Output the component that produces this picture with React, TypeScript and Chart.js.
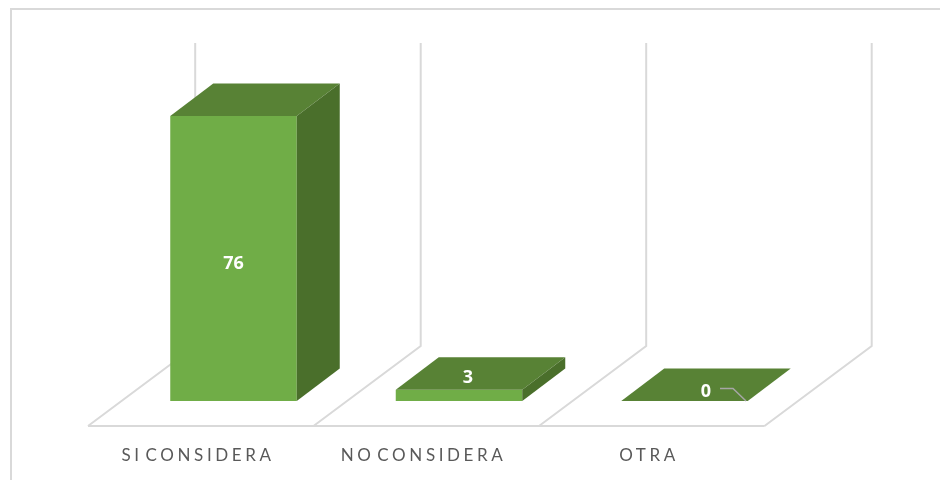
import React, { useEffect, useRef } from "react";
import { Chart, registerables } from "chart.js";

Chart.register(...registerables);

const categories = ["SI CONSIDERA", "NO CONSIDERA", "OTRA"];
const values = [76, 3, 0];
const axisMax = 80;

const FRONT = "#70AD47";
const TOP = "#588235";
const SIDE = "#4A6F2B";
const LINE = "#D9D9D9";
const DEPTH_X = 43;
const DEPTH_Y = 32.5;

function poly(ctx: CanvasRenderingContext2D, pts: number[][], fill: string) {
  ctx.beginPath();
  pts.forEach((p, i) => (i ? ctx.lineTo(p[0], p[1]) : ctx.moveTo(p[0], p[1])));
  ctx.closePath();
  ctx.fillStyle = fill;
  ctx.fill();
}

const scene = {
  id: "scene",
  beforeDraw(chart: any) {
    const ctx = chart.ctx;
    ctx.save();
    ctx.strokeStyle = LINE;
    ctx.lineWidth = 2;
    ctx.beginPath();
    ctx.moveTo(11, 480);
    ctx.lineTo(11, 9);
    ctx.lineTo(940, 9);
    ctx.stroke();
    ctx.restore();
    ctx.letterSpacing = "3.6px";
    ctx.wordSpacing = "-5px";
  },
  beforeDatasetsDraw(chart: any) {
    const ctx = chart.ctx;
    const x = chart.scales.x;
    const y = chart.scales.y;
    const step = x.getPixelForValue(1) - x.getPixelForValue(0);
    const y0 = y.getPixelForValue(0);
    const frontY = y0 + 25;
    const backY = y0 - 55;
    const topY = y.getPixelForValue(axisMax) - 58;
    const startX = x.getPixelForValue(0) - step / 2 - 32.75;
    ctx.save();
    ctx.letterSpacing = "0px";
    ctx.wordSpacing = "0px";
    ctx.strokeStyle = LINE;
    ctx.lineWidth = 2;
    ctx.beginPath();
    ctx.moveTo(startX, frontY);
    ctx.lineTo(startX + step * categories.length, frontY);
    for (let i = 0; i <= categories.length; i++) {
      const fx = startX + step * i;
      ctx.moveTo(fx, frontY);
      ctx.lineTo(fx + 107.2, backY);
      ctx.lineTo(fx + 107.2, topY);
    }
    ctx.stroke();
    ctx.restore();
  },
  afterDatasetsDraw(chart: any) {
    const ctx = chart.ctx;
    const y0 = chart.scales.y.getPixelForValue(0);
    const meta = chart.getDatasetMeta(0);
    ctx.save();
    ctx.letterSpacing = "0px";
    ctx.wordSpacing = "0px";
    meta.data.forEach((bar: any, i: number) => {
      const half = bar.width / 2;
      const l = bar.x - half;
      const r = bar.x + half;
      const t = bar.y;
      poly(ctx, [[l, t], [r, t], [r + DEPTH_X, t - DEPTH_Y], [l + DEPTH_X, t - DEPTH_Y]], TOP);
      if (values[i] > 0) {
        poly(ctx, [[r, t], [r + DEPTH_X, t - DEPTH_Y], [r + DEPTH_X, y0 - DEPTH_Y], [r, y0]], SIDE);
      }
    });
    ctx.fillStyle = "#FFFFFF";
    ctx.font = "bold 18px 'Open Sans'";
    ctx.textAlign = "center";
    ctx.textBaseline = "middle";
    meta.data.forEach((bar: any, i: number) => {
      const tall = values[i] > 20;
      const lx = tall ? bar.x : bar.x + 9 + (values[i] === 0 ? 12.5 : 0);
      const ly = tall ? (bar.y + y0) / 2 + 5 : bar.y - 11.5 + (values[i] === 0 ? 2 : 0);
      ctx.fillText(String(values[i]), lx, ly);
      if (values[i] === 0) {
        ctx.strokeStyle = "#A6A6A6";
        ctx.lineWidth = 1.5;
        ctx.beginPath();
        ctx.moveTo(lx + 14, ly - 3);
        ctx.lineTo(lx + 27, ly - 3);
        ctx.lineTo(lx + 40, bar.y);
        ctx.stroke();
      }
    });
    ctx.restore();
  },
  afterDraw(chart: any) {
    chart.ctx.letterSpacing = "0px";
    chart.ctx.wordSpacing = "0px";
  },
};

export default function App() {
  const ref = useRef<HTMLCanvasElement>(null);
  useEffect(() => {
    const chart = new Chart(ref.current!, {
      type: "bar",
      data: {
        labels: categories,
        datasets: [
          {
            data: values,
            backgroundColor: FRONT,
            borderWidth: 0,
            categoryPercentage: 1,
            barPercentage: 126.5 / 225.5,
          },
        ],
      },
      options: {
        animation: false,
        responsive: false,
        devicePixelRatio: 1,
        layout: { padding: { left: 120.75, right: 142.75, top: 101, bottom: 0 } },
        plugins: { legend: { display: false }, title: { display: false }, tooltip: { enabled: false } },
        scales: {
          x: {
            afterFit: (s: any) => {
              s.height = 79;
            },
            grid: { display: false, drawTicks: false },
            border: { display: false },
            ticks: {
              autoSkip: false,
              maxRotation: 0,
              minRotation: 0,
              labelOffset: -35.5,
              padding: 44,
              color: "#595959",
              font: { family: "Lato", size: 17 },
            },
          },
          y: { display: false, min: 0, max: axisMax },
        },
      },
      plugins: [scene],
    } as any);
    return () => chart.destroy();
  }, []);
  return (
    <div style={{ position: "absolute", left: 0, top: 0, width: 940, height: 480, background: "#fff" }}>
      <canvas ref={ref} width={940} height={480} style={{ display: "block" }} />
    </div>
  );
}
